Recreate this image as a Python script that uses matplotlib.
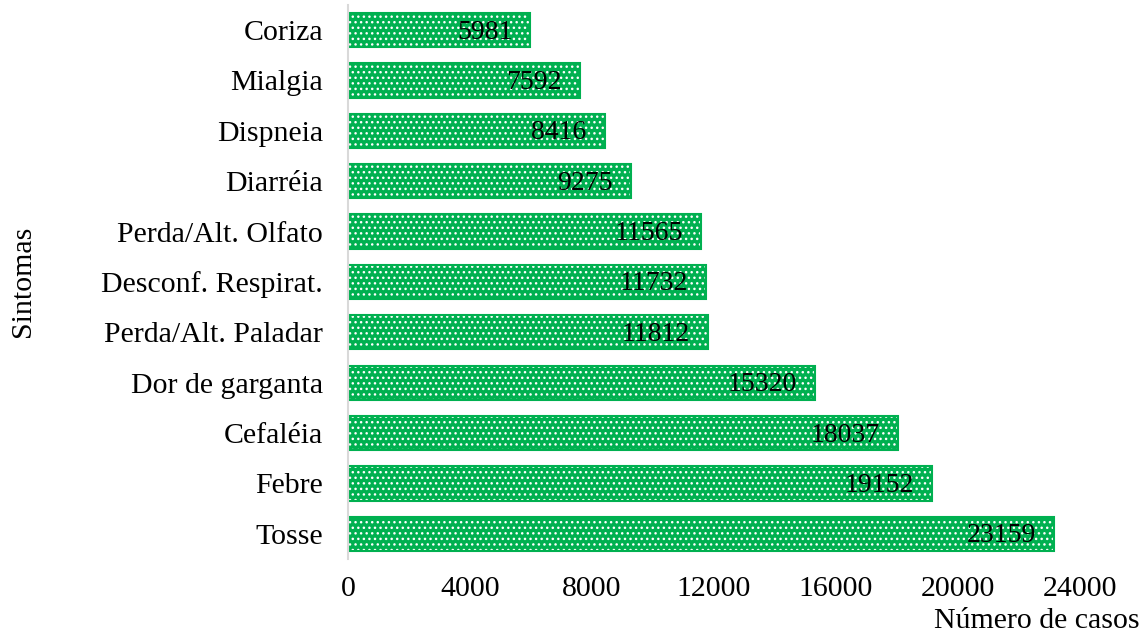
import matplotlib
matplotlib.use("Agg")
import matplotlib.pyplot as plt

categories = ["Coriza", "Mialgia", "Dispneia", "Diarréia", "Perda/Alt. Olfato",
              "Desconf. Respirat.", "Perda/Alt. Paladar", "Dor de garganta",
              "Cefaléia", "Febre", "Tosse"]
values = [5981, 7592, 8416, 9275, 11565, 11732, 11812, 15320, 18037, 19152, 23159]
xticks = [0, 4000, 8000, 12000, 16000, 20000, 24000]

plt.rcParams['font.family'] = ['Liberation Serif', 'DejaVu Serif']
plt.rcParams['hatch.linewidth'] = 1.0

fig = plt.figure(figsize=(11.47, 6.35), dpi=100)
ax = fig.add_axes([0.3034, 0.1197, 0.6382, 0.8727])

green = "#00B050"
pos = list(range(len(categories)))
ax.barh(pos, values, height=0.68, color=green, edgecolor="white",
        hatch="...", linewidth=0)
ax.barh(pos, values, height=0.68, facecolor="none", edgecolor=green, linewidth=1.5)

for p, v in zip(pos, values):
    ax.annotate(str(v), (v, p), xytext=(-13, -1.5), textcoords="offset points",
                ha="right", va="center", fontsize=20, color="black")

ax.set_ylim(len(categories) - 0.5, -0.5)
ax.set_xlim(0, 24000)
ax.set_yticks(pos)
ax.set_yticklabels(categories, fontsize=21.5)
ax.set_xticks(xticks)
ax.set_xticklabels([str(t) for t in xticks], fontsize=21.5)
ax.tick_params(axis="y", length=0, pad=18)
ax.tick_params(axis="x", length=0, pad=12)

for s in ["top", "right", "bottom"]:
    ax.spines[s].set_visible(False)
ax.spines["left"].set_color("#D9D9D9")
ax.spines["left"].set_linewidth(1.5)

fig.text(0.020, 0.557, "Sintomas", rotation=90, ha="center", va="center", fontsize=21.5)
fig.text(0.994, 0.022, "Número de casos", ha="right", va="center", fontsize=21.5)

fig.savefig("out.png", dpi=100)
